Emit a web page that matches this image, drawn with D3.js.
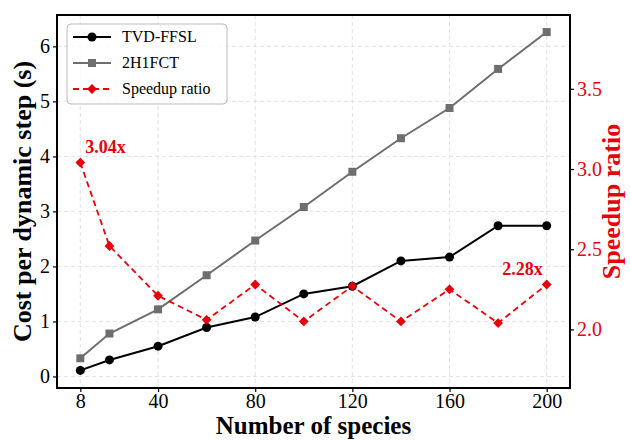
<!DOCTYPE html>
<html lang="en">
<head>
<meta charset="UTF-8">
<title>Cost per dynamic step vs number of species</title>
<script src="https://d3js.org/d3.v7.min.js"></script>
<style>
    body { margin: 0; background: #fff; }
    svg text { font-family: "Liberation Serif", "Times New Roman", serif; }
</style>
</head>
<body>
<svg id="chart" width="630" height="441"></svg>
<script>
    // data
    const species = [8, 20, 40, 60, 80, 100, 120, 140, 160, 180, 200];
    const tvdFfsl = [0.11, 0.30, 0.55, 0.89, 1.08, 1.50, 1.64, 2.10, 2.17, 2.74, 2.74];
    const h1fct = [0.33, 0.78, 1.22, 1.84, 2.47, 3.08, 3.72, 4.33, 4.88, 5.59, 6.26];
    const speedup = [3.04, 2.52, 2.21, 2.06, 2.28, 2.05, 2.27, 2.05, 2.25, 2.04, 2.28];
    const xTicks = [8, 40, 80, 120, 160, 200];
    const yTicks = [0, 1, 2, 3, 4, 5, 6];
    const rTicks = [2.0, 2.5, 3.0, 3.5];

    const red = "#e6000b";
    const gray = "#6e6e6e";
    const serif = "Liberation Serif";

    const svg = d3.select("#chart");
    const margin = { top: 15, right: 60, bottom: 53, left: 57 };
    const width = 630 - margin.left - margin.right;
    const height = 441 - margin.top - margin.bottom;

    const g = svg.append("g").attr("transform", `translate(${margin.left},${margin.top})`);

    // scales (matplotlib-like 5% padding)
    const x = d3.scaleLinear().domain([-1.6, 209.6]).range([0, width]);
    const y = d3.scaleLinear().domain([-0.21, 6.57]).range([height, 0]);
    const yR = d3.scaleLinear().domain([1.635, 3.96]).range([height, 0]);

    // grid
    g.append("g").selectAll("line").data(xTicks).enter().append("line")
        .attr("x1", d => x(d)).attr("x2", d => x(d))
        .attr("y1", 0).attr("y2", height)
        .attr("stroke", "#dcdcdc").attr("stroke-width", 0.8).attr("stroke-dasharray", "4,3");
    g.append("g").selectAll("line").data(yTicks).enter().append("line")
        .attr("x1", 0).attr("x2", width)
        .attr("y1", d => y(d)).attr("y2", d => y(d))
        .attr("stroke", "#dcdcdc").attr("stroke-width", 0.8).attr("stroke-dasharray", "4,3");

    // axes
    const xAxis = g.append("g")
        .attr("transform", `translate(0,${height})`)
        .call(d3.axisBottom(x).tickValues(xTicks).tickFormat(d3.format("d")).tickSize(4).tickPadding(2));
    xAxis.selectAll("text").attr("fill", "#000");

    const yAxis = g.append("g")
        .call(d3.axisLeft(y).tickValues(yTicks).tickFormat(d3.format("d")).tickSize(4).tickPadding(3));
    yAxis.selectAll("text").attr("fill", "#000");

    const rAxis = g.append("g")
        .attr("transform", `translate(${width},0)`)
        .call(d3.axisRight(yR).tickValues(rTicks).tickFormat(d3.format(".1f")).tickSize(4).tickPadding(3));
    rAxis.selectAll("text").attr("fill", red);

    [xAxis, yAxis, rAxis].forEach(a => {
        a.attr("font-family", serif).attr("font-size", 20);
        a.select(".domain").remove();
        a.selectAll(".tick line").attr("stroke", "#000").attr("stroke-width", 1.2);
    });

    // frame
    g.append("rect")
        .attr("x", 0).attr("y", 0).attr("width", width).attr("height", height)
        .attr("fill", "none").attr("stroke", "#000").attr("stroke-width", 2);

    // lines
    const line = (ys, sc) => d3.line().x((d, i) => x(species[i])).y(d => sc(d))(ys);

    g.append("path").attr("d", line(h1fct, y))
        .attr("fill", "none").attr("stroke", gray).attr("stroke-width", 2);
    g.append("path").attr("d", line(tvdFfsl, y))
        .attr("fill", "none").attr("stroke", "#000").attr("stroke-width", 2);
    g.append("path").attr("d", line(speedup, yR))
        .attr("fill", "none").attr("stroke", red).attr("stroke-width", 1.8)
        .attr("stroke-dasharray", "6,4");

    // markers
    const sq = d3.symbol().type(d3.symbolSquare).size(64);
    const dia = d3.symbol().type(d3.symbolSquare).size(48); // rotated 45 -> diamond

    g.append("g").selectAll("path").data(h1fct).enter().append("path")
        .attr("d", sq)
        .attr("transform", (d, i) => `translate(${x(species[i])},${y(d)})`)
        .attr("fill", gray);
    g.append("g").selectAll("circle").data(tvdFfsl).enter().append("circle")
        .attr("cx", (d, i) => x(species[i])).attr("cy", d => y(d))
        .attr("r", 4.5).attr("fill", "#000");
    g.append("g").selectAll("path").data(speedup).enter().append("path")
        .attr("d", dia)
        .attr("transform", (d, i) => `translate(${x(species[i])},${yR(d)}) rotate(45)`)
        .attr("fill", red);

    // annotations for first and last speedup
    const last = speedup.length - 1;
    g.append("text")
        .attr("x", x(species[0]) + 5).attr("y", yR(speedup[0]) - 10)
        .attr("font-family", serif)
        .attr("font-size", "18px").attr("font-weight", "bold").attr("fill", red)
        .text(speedup[0].toFixed(2) + "x");
    g.append("text")
        .attr("x", x(species[last]) - 4).attr("y", yR(speedup[last]) - 10)
        .attr("text-anchor", "end").attr("font-family", serif)
        .attr("font-size", "18px").attr("font-weight", "bold").attr("fill", red)
        .text(speedup[last].toFixed(2) + "x");

    // axis titles
    svg.append("text")
        .attr("x", margin.left + width / 2).attr("y", 434)
        .attr("text-anchor", "middle").attr("font-family", serif)
        .attr("font-size", "25px").attr("font-weight", "bold")
        .text("Number of species");
    svg.append("text")
        .attr("transform", `translate(31,${margin.top + height / 2}) rotate(-90)`)
        .attr("text-anchor", "middle").attr("font-family", serif)
        .attr("font-size", "26px").attr("font-weight", "bold")
        .text("Cost per dynamic step (s)");
    svg.append("text")
        .attr("transform", `translate(602,${margin.top + height / 2}) rotate(-90)`)
        .attr("text-anchor", "middle").attr("font-family", serif)
        .attr("font-size", "26px").attr("font-weight", "bold").attr("fill", red)
        .attr("dy", "0.7em")
        .text("Speedup ratio");

    // legend
    const legend = svg.append("g").attr("transform", "translate(67,24)");
    legend.append("rect")
        .attr("width", 160).attr("height", 80).attr("rx", 4)
        .attr("fill", "#fff").attr("fill-opacity", 0.8)
        .attr("stroke", "#bbb").attr("stroke-width", 1);

    const items = [
        { label: "TVD-FFSL", color: "#000", dash: null, mark: "circle" },
        { label: "2H1FCT", color: gray, dash: null, mark: "square" },
        { label: "Speedup ratio", color: red, dash: "6,4", mark: "diamond" }
    ];
    items.forEach((it, i) => {
        const yy = 13 + i * 26;
        legend.append("line")
            .attr("x1", 6).attr("x2", 44).attr("y1", yy).attr("y2", yy)
            .attr("stroke", it.color).attr("stroke-width", 2)
            .attr("stroke-dasharray", it.dash);
        if (it.mark === "circle") {
            legend.append("circle").attr("cx", 25).attr("cy", yy).attr("r", 4.5).attr("fill", it.color);
        } else {
            legend.append("path").attr("d", it.mark === "square" ? sq : dia)
                .attr("transform", `translate(25,${yy})` + (it.mark === "diamond" ? " rotate(45)" : ""))
                .attr("fill", it.color);
        }
        legend.append("text")
            .attr("x", 55).attr("y", yy + 5)
            .attr("font-family", serif).attr("font-size", "16px")
            .text(it.label);
    });
</script>
</body>
</html>
